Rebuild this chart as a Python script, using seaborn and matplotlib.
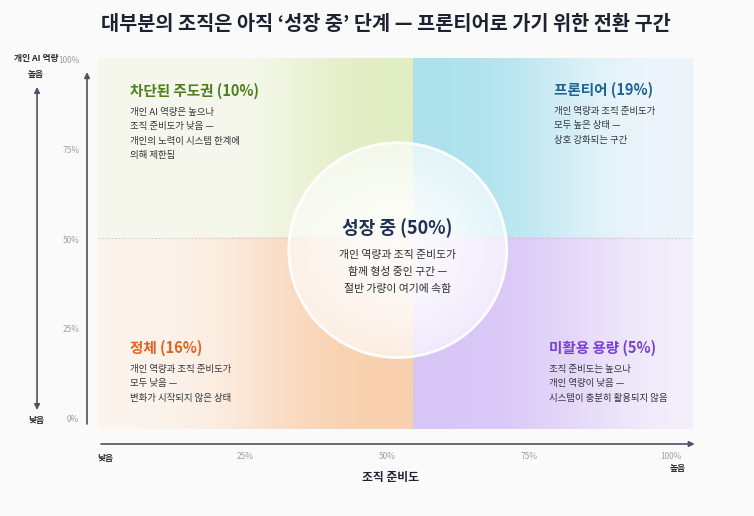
import numpy as np
import matplotlib
matplotlib.use("Agg")
import matplotlib.pyplot as plt
from matplotlib.patches import Ellipse
from matplotlib.colors import to_rgb
import seaborn as sns

# quadrant data (order: top-left, top-right, bottom-left, bottom-right, center)
zone_names = ["차단된 주도권", "프론티어", "정체", "미활용 용량", "성장 중"]
zone_shares = [10, 19, 16, 5, 50]
zone_desc = [
    ["개인 AI 역량은 높으나", "조직 준비도가 낮음 —", "개인의 노력이 시스템 한계에", "의해 제한됨"],
    ["개인 역량과 조직 준비도가", "모두 높은 상태 —", "상호 강화되는 구간"],
    ["개인 역량과 조직 준비도가", "모두 낮음 —", "변화가 시작되지 않은 상태"],
    ["조직 준비도는 높으나", "개인 역량이 낮음 —", "시스템이 충분히 활용되지 않음"],
    ["개인 역량과 조직 준비도가", "함께 형성 중인 구간 —", "절반 가량이 여기에 속함"],
]
title_colors = ["#4f7f1a", "#1f6391", "#e4611b", "#7b3fcf", "#1f2f56"]
dot_colors = ["#b2d45e", "#45c4d6", "#f39c52", "#a67cf0"]
tint_colors = ["#f6f8ee", "#edf5fb", "#fcf4ed", "#f5f1fb"]

x_ticks = [25, 50, 75, 100]
y_ticks = [0, 25, 50, 75, 100]
tick_labels_x = ["25%", "50%", "75%", "100%"]
tick_labels_y = ["0%", "25%", "50%", "75%", "100%"]

# layout
label_pos = [(4.6, 91.1), (79.3, 91.4), (4.6, 19.7), (78.4, 19.7)]
x_split, y_split = 54.5, 50.3
xlim, ylim = (-1, 103.8), (-2.8, 100.3)
cx, cy, cw, ch = 51.8, 46.9, 38.4, 59.7

sns.set_theme(style="white")
plt.rcParams["font.family"] = ["Noto Sans CJK KR", "DejaVu Sans"]

fig = plt.figure(figsize=(7.54, 5.16), dpi=100)
fig.patch.set_facecolor("#fafafb")
ax = fig.add_axes([0.130, 0.1686, 0.789, 0.719])
ax.set_facecolor("#fafafb")

# soft coloured field for each quadrant (fades away from the vertical split)
gx = np.linspace(xlim[0], xlim[1], 700)
gy = np.linspace(ylim[0], ylim[1], 500)
X, Y = np.meshgrid(gx, gy)
right = X >= x_split
top = Y >= y_split
quad = np.where(top, np.where(right, 1, 0), np.where(right, 3, 2))
amps = np.array([0.30, 0.38, 0.40, 0.37])
spread = np.array([22, 28, 30, 34])
w = amps[quad] * np.exp(-(np.abs(X - x_split) / spread[quad]) ** 3)
bg = np.array([to_rgb(c) for c in tint_colors])[quad]
dots = np.array([to_rgb(c) for c in dot_colors])[quad]
img = bg * (1 - w[..., None]) + dots * w[..., None]
ax.imshow(img, extent=[*xlim, *ylim], origin="lower", aspect="auto", zorder=0)

ax.axvline(x_split, color="#c3c7ce", lw=0.6, ls=(0, (2, 2)), zorder=1)
ax.axhline(y_split, color="#c3c7ce", lw=0.6, ls=(0, (2, 2)), zorder=1)

# whitish veil inside the central circle
r2 = ((X - cx) / (cw / 2)) ** 2 + ((Y - cy) / (ch / 2)) ** 2
veil = np.zeros(X.shape + (4,))
veil[..., :3] = 1.0
veil[..., 3] = np.where(r2 <= 1, 0.62 + 0.28 * (1 - r2), 0.0)
ax.imshow(veil, extent=[*xlim, *ylim], origin="lower", aspect="auto", zorder=2)
ax.add_patch(Ellipse((cx, cy), cw, ch, fill=False, edgecolor="white", lw=2, alpha=0.95, zorder=3))

ax.set_xlim(*xlim)
ax.set_ylim(*ylim)
ax.set_xticks(x_ticks, tick_labels_x)
ax.set_yticks(y_ticks, tick_labels_y)
ax.tick_params(axis="x", length=0, pad=16.5, labelsize=6, labelcolor="#9aa0a8")
ax.tick_params(axis="y", length=0, pad=13.5, labelsize=6, labelcolor="#9aa0a8")
for s in ax.spines.values():
    s.set_visible(False)

# quadrant labels
line_gap = 4.03
for i in range(4):
    lx, ly = label_pos[i]
    ax.text(lx, ly, f"{zone_names[i]} ({zone_shares[i]}%)", color=title_colors[i],
            fontsize=10.5, fontweight="bold", ha="left", va="center", zorder=4)
    for j, line in enumerate(zone_desc[i]):
        ax.text(lx, ly - 5.9 - j * line_gap, line, color="#33363b", fontsize=6.8,
                ha="left", va="center", zorder=4)

ax.text(51.7, 53.1, f"{zone_names[4]} ({zone_shares[4]}%)", color=title_colors[4],
        fontsize=13, fontweight="bold", ha="center", va="center", zorder=4)
for j, line in enumerate(zone_desc[4]):
    ax.text(51.7, 45.5 - j * 4.63, line, color="#2b2e33", fontsize=7.8,
            ha="center", va="center", zorder=4)

# axis arrows
arrow = dict(arrowstyle="-|>", color="#4b5563", lw=1.2, mutation_scale=8, shrinkA=0, shrinkB=0)
ax.annotate("", xy=(-0.0185, 0.962), xytext=(-0.0185, 0.0135), xycoords="axes fraction",
            arrowprops=arrow, annotation_clip=False)
ax.annotate("", xy=(1.003, -0.0404), xytext=(0.005, -0.0404), xycoords="axes fraction",
            arrowprops=arrow, annotation_clip=False)
ax.annotate("", xy=(-0.1025, 0.922), xytext=(-0.1025, 0.051), xycoords="axes fraction",
            arrowprops=dict(arrow, arrowstyle="<|-|>"), annotation_clip=False)

def ftext(px, py, s, **kw):
    fig.text(px / 754, 1 - py / 516, s, ha="center", va="center", **kw)

ftext(36, 58, "개인 AI 역량", fontsize=6.3, fontweight="bold", color="#2b2e33")
ftext(36, 74, "높음", fontsize=6.3, fontweight="bold", color="#2b2e33")
ftext(36, 420, "낮음", fontsize=6.3, fontweight="bold", color="#2b2e33")
ftext(105, 458, "낮음", fontsize=6.3, fontweight="bold", color="#2b2e33")
ftext(678, 468, "높음", fontsize=6.3, fontweight="bold", color="#2b2e33")
ftext(390, 477, "조직 준비도", fontsize=8.5, fontweight="bold", color="#1f2530")

ftext(386, 24, "대부분의 조직은 아직 ‘성장 중’ 단계 — 프론티어로 가기 위한 전환 구간",
      fontsize=14.2, fontweight="bold", color="#1c2230")

fig.savefig("out.png", dpi=100, facecolor=fig.get_facecolor())
